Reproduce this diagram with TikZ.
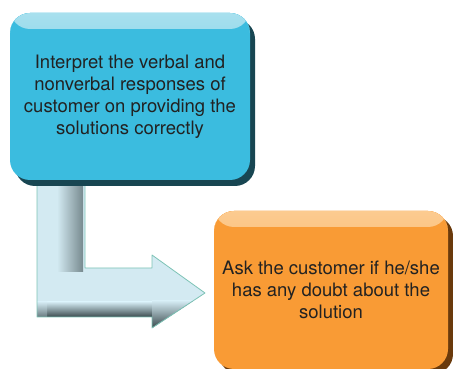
\documentclass[tikz,border=0pt]{standalone}
\usepackage{fontspec}
\setmainfont{TeX Gyre Heros}
\usetikzlibrary{shadows,calc}

\definecolor{blueBody}{HTML}{3BBCDF}
\definecolor{blueTop}{HTML}{A8E0EE}
\definecolor{blueShade}{HTML}{184652}
\definecolor{orangeBody}{HTML}{F99B35}
\definecolor{orangeTop}{HTML}{FCCB90}
\definecolor{orangeShade}{HTML}{6A3A0C}
\definecolor{arrowBody}{HTML}{D3EAF2}
\definecolor{arrowEdge}{HTML}{7DC3B6}
\definecolor{arrowShade}{HTML}{3A4A4D}
\definecolor{textGray}{HTML}{222222}

\tikzset{
  stepbox/.style={rounded corners=20pt, text=textGray, align=center,
    font=\fontsize{18.5}{22}\selectfont, inner sep=0pt},
  bluebox/.style={stepbox, fill=blueBody,
    drop shadow={shadow xshift=5pt, shadow yshift=-6pt, fill=blueShade, opacity=1},
    path picture={\fill[top color=blueTop, bottom color=blueBody]
      (path picture bounding box.north west) rectangle
      ([yshift=-16pt]path picture bounding box.north east);}},
  orangebox/.style={stepbox, fill=orangeBody,
    drop shadow={shadow xshift=5pt, shadow yshift=-5pt, fill=orangeShade, opacity=1},
    path picture={\fill[top color=orangeTop, bottom color=orangeBody]
      (path picture bounding box.north west) rectangle
      ([yshift=-16pt]path picture bounding box.north east);}},
}

\begin{document}
\begin{tikzpicture}[x=1pt,y=1pt]
\useasboundingbox (0,0) rectangle (453,369);

% Corner points of the bent arrow
\coordinate (shaftTL) at (37,187);
\coordinate (shaftTR) at (85,187);
\coordinate (elbow) at (85,101);
\coordinate (headTop) at (152,114);
\coordinate (headTip) at (205,76);
\coordinate (headBot) at (152,41);
\coordinate (baseR) at (152,52);
\coordinate (baseL) at (37,52);

% Bent arrow
\path[fill=arrowBody] (shaftTL) -- (baseL) -- (baseR) -- (headBot) -- (headTip)
  -- (headTop) -- (elbow -| headTop) -- (elbow) -- (shaftTR) -- cycle;
\begin{scope}
  \clip (shaftTL) -- (baseL) -- (baseR) -- (headBot) -- (headTip)
    -- (headTop) -- (elbow -| headTop) -- (elbow) -- (shaftTR) -- cycle;
  \fill[left color=arrowBody, right color=arrowShade!60!arrowBody]
    ($(shaftTR)+(-28,0)$) rectangle ($(elbow)+(-2,-4)$);
  \fill[top color=arrowBody, bottom color=arrowShade]
    ($(baseL)+(10,15)$) rectangle (baseR);
  \fill[top color=arrowBody, bottom color=arrowShade!70!arrowBody]
    ($(baseL)+(0,15)$) rectangle ($(baseL)+(10,0)$);
  \fill[top color=arrowBody, bottom color=arrowShade]
    ($(baseR)+(0,16)$) rectangle (headTip |- headBot);
\end{scope}
\draw[arrowEdge, line width=0.8pt, line join=round] (shaftTL) -- (baseL) -- (baseR) -- (headBot)
  -- (headTip) -- (headTop) -- (elbow -| headTop) -- (elbow) -- (shaftTR);

% Step boxes
\node[bluebox, minimum width=240pt, minimum height=167pt] (interpret) at (130,272.5)
  {Interpret the verbal and\\nonverbal responses of\\customer on providing the\\solutions correctly};
\node[orangebox, minimum width=234pt, minimum height=158pt] (ask) at (331,79)
  {Ask the customer if he/she\\has any doubt about the\\solution};

\end{tikzpicture}
\end{document}
